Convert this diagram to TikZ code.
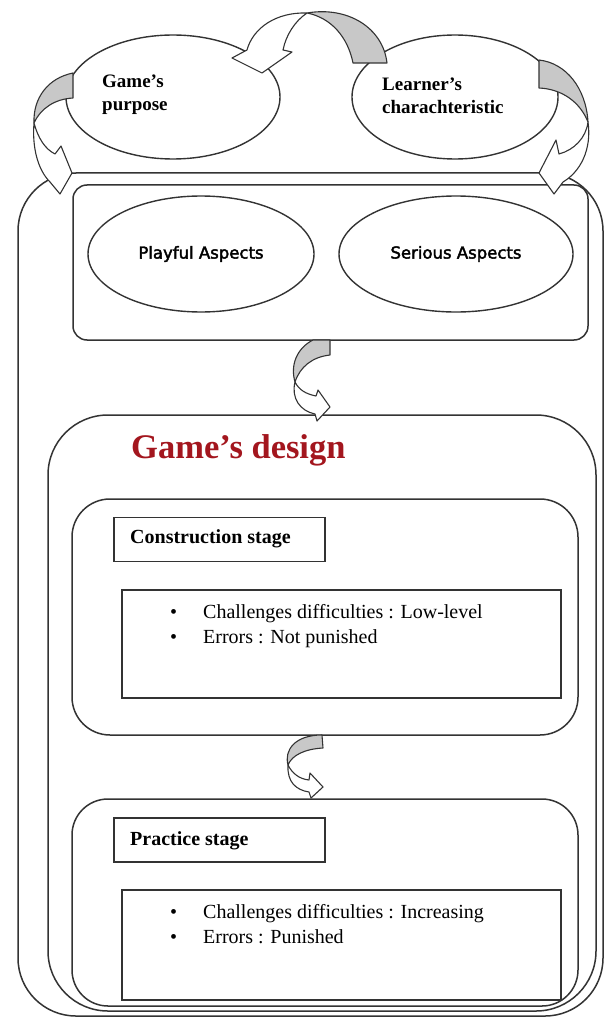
\documentclass[tikz,border=0pt]{standalone}
\usepackage{fontspec}
\setmainfont{Liberation Serif}
\newfontfamily\aspectfont[FakeBold=2.4]{DejaVu Sans}
\usetikzlibrary{shapes.geometric}
\definecolor{frameline}{HTML}{333333}
\definecolor{twistgray}{HTML}{C8C8C8}
\definecolor{titlered}{HTML}{A3161E}
\tikzset{
    container/.style={rectangle, draw=frameline, line width=1.5pt, inner sep=0pt},
    topic/.style={ellipse, draw=frameline, line width=1.4pt, fill=white, inner sep=0pt},
    stagetag/.style={rectangle, draw=frameline, line width=1.5pt, fill=white, inner sep=0pt, minimum width=211pt, minimum height=44pt},
    listbox/.style={rectangle, draw=frameline, line width=1.5pt, inner sep=0pt, minimum width=439pt},
    headfont/.style={font=\fontsize{19}{23}\selectfont\bfseries, align=left, inner sep=0pt},
    tagfont/.style={font=\fontsize{20}{24}\selectfont\bfseries, inner sep=0pt},
    item/.style={font=\fontsize{20}{24}\selectfont, inner sep=0pt, anchor=base west},
    twistback/.style={fill=twistgray, draw=frameline, line width=1.1pt, line join=round},
    twistfront/.style={fill=white, draw=frameline, line width=1.1pt, line join=round}
}
\newcommand{\bulletmark}{\makebox[33pt][l]{\textbullet}}

\begin{document}
\begin{tikzpicture}[x=1pt, y=-1pt]
    \useasboundingbox (0,0) rectangle (606,1019);

    % Frames
    \node [container, rounded corners=58pt, minimum width=585pt, minimum height=843pt] (frame) at (310.5,594.5) {};
    \node [container, rounded corners=14pt, minimum width=515pt, minimum height=155pt] (aspects) at (330.5,262.5) {};
    \node [container, rounded corners=60pt, minimum width=548pt, minimum height=596pt] (design) at (322,713) {};
    \node [container, rounded corners=38pt, minimum width=506pt, minimum height=236pt] (construction) at (325,617) {};
    \node [container, rounded corners=36pt, minimum width=506pt, minimum height=207pt] (practice) at (325,902.5) {};

    % Inputs
    \node [topic, minimum width=214pt, minimum height=124pt] (purpose) at (173,97) {};
    \node [topic, minimum width=206pt, minimum height=124pt] (learner) at (455,97) {};
    \node [headfont, anchor=west] (purposetxt) at (102,95) {Game’s\\purpose};
    \node [headfont, anchor=west] (learnertxt) at (382,96) {Learner’s\\charachteristic};

    % Aspects
    \node [topic, minimum width=226pt, minimum height=116pt, font=\fontsize{16.5}{20}\aspectfont] (playful) at (201,254) {Playful Aspects};
    \node [topic, minimum width=234pt, minimum height=116pt, font=\fontsize{16.5}{20}\aspectfont] (serious) at (456,254) {Serious Aspects};

    % Design
    \node [font=\fontsize{34.5}{40}\selectfont\bfseries, text=titlered, inner sep=0pt, anchor=base west] (title) at (131,458) {Game’s design};

    \node [stagetag] (constag) at (219.5,539.5) {};
    \node [tagfont, anchor=base west] (constxt) at (130,543) {Construction stage};
    \node [listbox, minimum height=108pt] (conslist) at (341.5,644) {};
    \node [item] (cons1) at (170,618) {\bulletmark Challenges difficulties : Low-level};
    \node [item] (cons2) at (170,643) {\bulletmark Errors : Not punished};

    \node [stagetag] (practag) at (219.5,840) {};
    \node [tagfont, anchor=base west] (practxt) at (130,845) {Practice stage};
    \node [listbox, minimum height=110pt] (praclist) at (341.5,945) {};
    \node [item] (prac1) at (170,918) {\bulletmark Challenges difficulties : Increasing};
    \node [item] (prac2) at (170,943) {\bulletmark Errors : Punished};

    % Curved arrows
    \filldraw [twistback] (353,63) .. controls (348,38) and (332,18) .. (307,13) .. controls (348,6) and (383,28) .. (387,63) -- cycle;
    \filldraw [twistfront] (307,13) .. controls (276,12) and (253,28) .. (247,50) -- (232,58) -- (262,73) -- (292,52) -- (283,50) .. controls (286,35) and (295,21) .. (307,13) -- cycle;

    \filldraw [twistback] (73,73) -- (73,98) .. controls (55,99) and (41,108) .. (34,123) .. controls (33,98) and (48,78) .. (73,73) -- cycle;
    \filldraw [twistfront] (34,123) .. controls (38,138) and (45,149) .. (55,154) -- (61,146) -- (72,173) -- (60,194) -- (50,182) .. controls (38,170) and (32,148) .. (34,123) -- cycle;

    \filldraw [twistback] (539,60) .. controls (566,63) and (586,88) .. (588,122) .. controls (580,102) and (562,89) .. (539,88) -- cycle;
    \filldraw [twistfront] (588,122) .. controls (586,138) and (574,150) .. (559,154) -- (556,140) -- (539,173) -- (554,194) -- (563,182) .. controls (580,172) and (592,150) .. (588,122) -- cycle;

    \filldraw [twistback] (313,340) -- (330,340) -- (330,355) .. controls (312,357) and (300,367) .. (295,382) .. controls (290,365) and (297,348) .. (313,340) -- cycle;
    \filldraw [twistfront] (295,382) .. controls (299,390) and (306,394) .. (316,396) -- (318,390) -- (330,407) -- (317,421) -- (315,414) .. controls (300,411) and (291,398) .. (295,382) -- cycle;

    \filldraw [twistback] (322,735) -- (323,748) .. controls (305,749) and (292,755) .. (288,765) .. controls (284,750) and (295,735) .. (322,735) -- cycle;
    \filldraw [twistfront] (288,765) .. controls (292,773) and (299,779) .. (309,780) -- (310,773) -- (323,787) -- (311,798) -- (309,792) .. controls (296,790) and (287,782) .. (288,765) -- cycle;
\end{tikzpicture}
\end{document}
